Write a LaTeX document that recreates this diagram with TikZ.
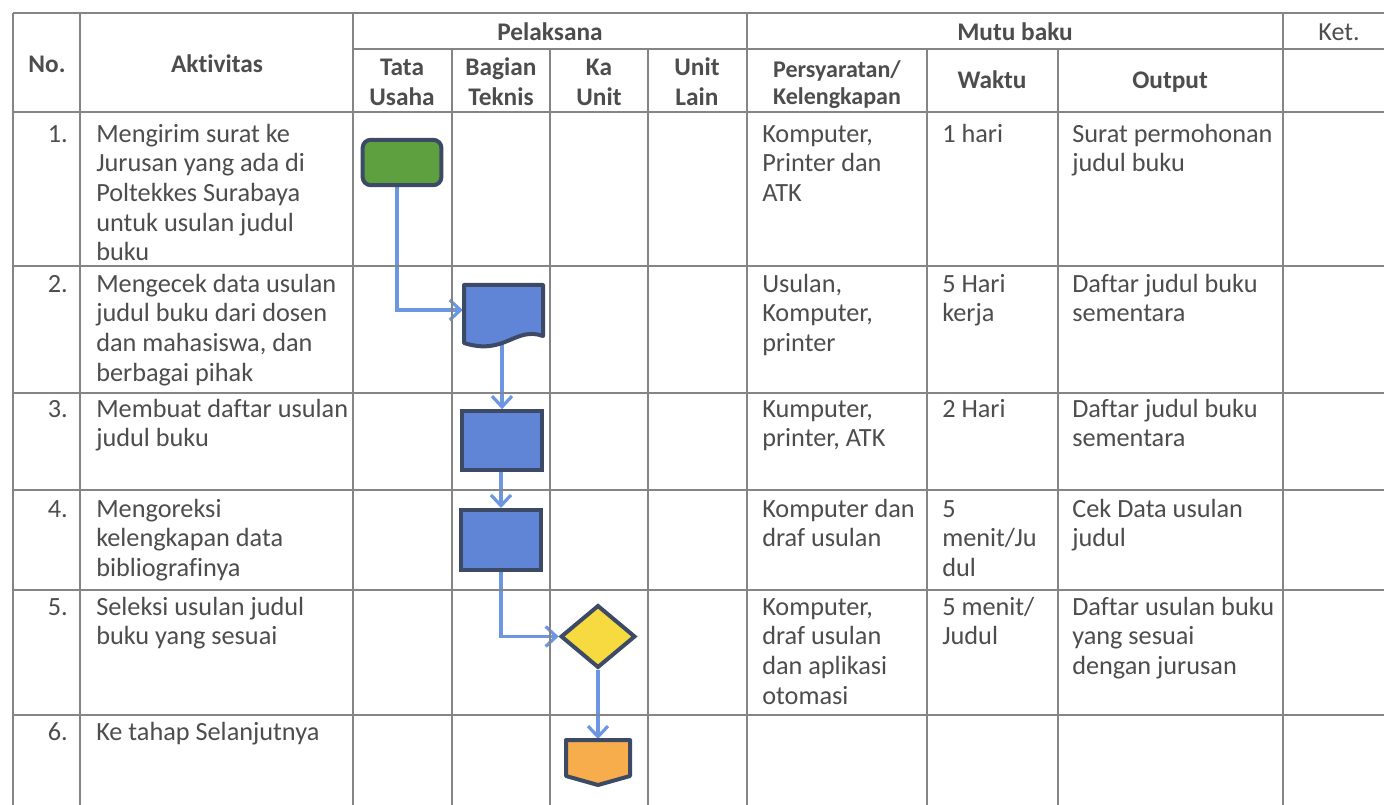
\documentclass[tikz,border=0pt]{standalone}
\usepackage{fontspec}
\setmainfont{Carlito}[Ligatures=NoCommon]
\usetikzlibrary{arrows.meta,shapes.geometric,backgrounds}
\definecolor{txt}{HTML}{4D4D4D}
\definecolor{gridc}{HTML}{858585}
\definecolor{edgec}{HTML}{3D4A66}
\definecolor{greenf}{HTML}{5EA040}
\definecolor{bluef}{HTML}{6084D6}
\definecolor{yellowf}{HTML}{F6DA3F}
\definecolor{orangef}{HTML}{F7AD4C}
\definecolor{linkc}{HTML}{6C96E2}
\tikzset{
  gridline/.style={draw=gridc, line width=1.1pt},
  cell/.style={anchor=north west, inner sep=0pt, align=left, text=txt,
    font=\fontsize{19.7}{22.2}\selectfont},
  numcell/.style={cell, anchor=north east, align=right},
  head/.style={anchor=north, inner sep=0pt, align=center, text=txt,
    font=\fontsize{19}{23}\selectfont\bfseries},
  headsmall/.style={head, font=\fontsize{18}{20}\selectfont\bfseries},
  shapeedge/.style={draw=edgec, line width=3pt},
  box/.style={shapeedge, rectangle, inner sep=0pt},
  ghost/.style={rectangle, inner sep=0pt, draw=none},
  link/.style={draw=linkc, line width=2.4pt,
    -{Straight Barb[length=8pt,width=15pt]}},
}
\begin{document}
\begin{tikzpicture}[x=0.75pt,y=-0.75pt]
\useasboundingbox (0,0) rectangle (1384,805);
\begin{pgfonlayer}{background}
\fill[white] (0,0) rectangle (1384,805);
\end{pgfonlayer}

% ---------- grid ----------
\draw[gridline] (13,13) -- (1384,13);
\draw[gridline] (353,49) -- (1384,49);
\foreach \y in {112,266,393,490,590,715} \draw[gridline] (13,\y) -- (1384,\y);
\foreach \x in {13,80,353,747,1283} \draw[gridline] (\x,13) -- (\x,805);
\foreach \x in {452,550,648,927,1058} \draw[gridline] (\x,49) -- (\x,805);

% ---------- headers ----------
\node[head] (hno) at (47,72-21.5) {\strut No.};
\node[head] (hakt) at (217,72-21.5) {\strut Aktivitas};
\node[head] (hpel) at (550,40-21.5) {\strut Pelaksana};
\node[head] (hmutu) at (1015,40-21.5) {\strut Mutu baku};
\node[head, font=\fontsize{19.5}{23}\selectfont] (hket) at (1339,40-21.5) {\strut Ket.};
\node[head] (htu) at (402,75-21.5) {\strut Tata\\Usaha};
\node[head] (hbt) at (501,75-21.5) {\strut Bagian\\Teknis};
\node[head] (hku) at (599,75-21.5) {\strut Ka\\Unit};
\node[head] (hul) at (697,75-21.5) {\strut Unit\\Lain};
\node[headsmall] (hper) at (837,78-19) {\strut Persyaratan/\\Kelengkapan};
\node[head] (hwak) at (992,88-21.5) {\strut Waktu};
\node[head] (hout) at (1170,88-21.5) {\strut Output};

% ---------- row 1 ----------
\node[numcell] (n1) at (68,142-20.7) {\strut 1.};
\node[cell] (a1) at (96,142-20.7) {\strut Mengirim surat ke\\Jurusan yang ada di\\Poltekkes Surabaya\\untuk usulan judul\\buku};
\node[cell] (p1) at (762,142-20.7) {\strut Komputer,\\Printer dan\\ATK};
\node[cell] (w1) at (942,142-20.7) {\strut 1 hari};
\node[cell] (o1) at (1072,142-20.7) {\strut Surat permohonan\\judul buku};

% ---------- row 2 ----------
\node[numcell] (n2) at (68,292-20.7) {\strut 2.};
\node[cell] (a2) at (96,292-20.7) {\strut Mengecek data usulan\\judul buku dari dosen\\dan mahasiswa, dan\\berbagai pihak};
\node[cell] (p2) at (762,292-20.7) {\strut Usulan,\\Komputer,\\printer};
\node[cell] (w2) at (942,292-20.7) {\strut 5 Hari\\kerja};
\node[cell] (o2) at (1072,292-20.7) {\strut Daftar judul buku\\sementara};

% ---------- row 3 ----------
\node[numcell] (n3) at (68,417-20.7) {\strut 3.};
\node[cell] (a3) at (96,417-20.7) {\strut Membuat daftar usulan\\judul buku};
\node[cell] (p3) at (762,417-20.7) {\strut Kumputer,\\printer, ATK};
\node[cell] (w3) at (942,417-20.7) {\strut 2 Hari};
\node[cell] (o3) at (1072,417-20.7) {\strut Daftar judul buku\\sementara};

% ---------- row 4 ----------
\node[numcell] (n4) at (68,517-20.7) {\strut 4.};
\node[cell] (a4) at (96,517-20.7) {\strut Mengoreksi\\kelengkapan data\\bibliografinya};
\node[cell] (p4) at (762,517-20.7) {\strut Komputer dan\\draf usulan};
\node[cell] (w4) at (942,517-20.7) {\strut 5\\menit/Ju\\dul};
\node[cell] (o4) at (1072,517-20.7) {\strut Cek Data usulan\\judul};

% ---------- row 5 ----------
\node[numcell] (n5) at (68,615-20.7) {\strut 5.};
\node[cell] (a5) at (96,615-20.7) {\strut Seleksi usulan judul\\buku yang sesuai};
\node[cell] (p5) at (762,615-20.7) {\strut Komputer,\\draf usulan\\dan aplikasi\\otomasi};
\node[cell] (w5) at (942,615-20.7) {\strut 5 menit/\\Judul};
\node[cell] (o5) at (1072,615-20.7) {\strut Daftar usulan buku\\yang sesuai\\dengan jurusan};

% ---------- row 6 ----------
\node[numcell] (n6) at (68,740-20.7) {\strut 6.};
\node[cell] (a6) at (96,740-20.7) {\strut Ke tahap Selanjutnya};

% ---------- flow shapes ----------
\node[box, fill=greenf, rounded corners=6pt, minimum width=59pt, minimum height=34pt] (start) at (402,162.5) {};

\node[ghost, minimum width=60pt, minimum height=40pt] (doc) at (503,310) {};
\filldraw[shapeedge, fill=bluef, line join=round] (464,285) -- (543,285) -- (543,336)
  .. controls (515,326) and (505,356) .. (464,343) -- cycle;

\node[box, fill=bluef, minimum width=60pt, minimum height=44pt] (r2) at (502,440.5) {};
\node[box, fill=bluef, minimum width=60pt, minimum height=45pt] (r3) at (501,540) {};
\node[shapeedge, diamond, fill=yellowf, inner sep=0pt, minimum width=56pt, minimum height=47pt] (dec) at (598,636.5) {};

\node[ghost, minimum width=48pt, minimum height=34pt] (off) at (598,762) {};
\filldraw[shapeedge, fill=orangef, line join=round] (566,740) -- (630,740) -- (630,776) -- (598,785) -- (566,776) -- cycle;

% ---------- connectors ----------
\begin{pgfonlayer}{background}
\draw[link] ([xshift=-3.75pt]start.south) |- (doc.west);
\draw[link] (doc.south -| r2.north) -- (r2.north);
\draw[link] (r2.south -| r3.north) -- (r3.north);
\draw[link] (r3.south) |- (dec.west);
\draw[link] (dec.south) -- (off.north);
\end{pgfonlayer}
\end{tikzpicture}
\end{document}
